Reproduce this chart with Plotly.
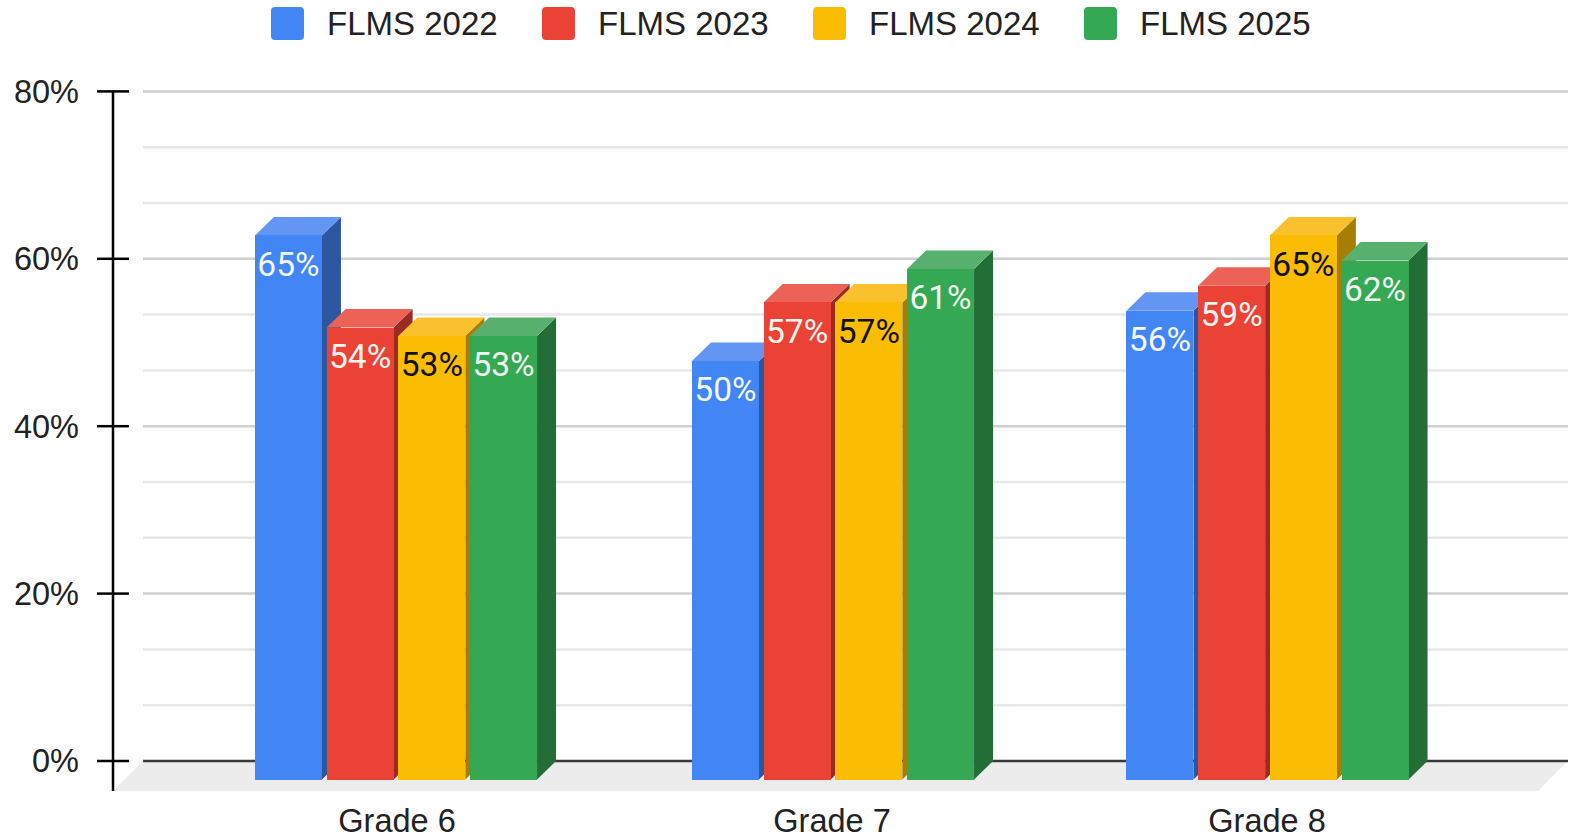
import plotly.graph_objects as go

categories = ["Grade 6", "Grade 7", "Grade 8"]
series_names = ["FLMS 2022", "FLMS 2023", "FLMS 2024", "FLMS 2025"]
flms_2022 = [65, 50, 56]
flms_2023 = [54, 57, 59]
flms_2024 = [53, 57, 65]
flms_2025 = [53, 61, 62]
y_major = [0, 20, 40, 60, 80]
y_labels = ["0%", "20%", "40%", "60%", "80%"]

series = [flms_2022, flms_2023, flms_2024, flms_2025]
front = ["#4285F4", "#EA4335", "#FBBC04", "#34A853"]
top = ["#6296F2", "#EC6257", "#F9C12E", "#58B06F"]
side = ["#2C56A0", "#982B23", "#A87D03", "#226E36"]
label_col = ["#F4F8FF", "#FFF4F2", "#111111", "#F2FAF4"]

W, H = 1570, 839
PX_X, PX_Y = 435.0, 8.37      # pixels per category, pixels per percent
L, T, B = 92, 80, 795         # plot box (a little larger than the drawn chart)
AXIS_X, FLOOR_Y = 113, 791
X0, Y0 = 396, 761             # pixel of first category centre and of 0 %
GROUP_PX = [396, 833, 1267.5] # pixel centres of the bar groups
TICK_PX = [397, 832, 1267]    # pixel centres of the category labels
px = lambda n: n / PX_X       # pixel lengths expressed in axis units
py = lambda n: n / PX_Y
to_x = lambda p: (p - X0) / PX_X
BAR_W, STEP, DX, DY = px(67), px(71.7), px(19), py(18.5)
x_lo, x_hi = to_x(L), to_x(W)
y_lo, y_hi = (Y0 - B) / PX_Y, (Y0 - T) / PX_Y
x_axis = to_x(AXIS_X)
y_floor = (Y0 - FLOOR_Y) / PX_Y
y_top = 80
grid_l, grid_r = x_axis + px(30), x_hi - px(2)

fig = go.Figure()

# floor
fig.add_trace(go.Scatter(
    x=[x_axis, grid_l, grid_r, grid_r - px(30), x_axis], y=[y_floor, 0, 0, y_floor, y_floor],
    mode="lines", fill="toself", fillcolor="#ECECEC", line=dict(width=0),
    hoverinfo="skip", showlegend=False, zorder=-5))

# back-wall grid lines
def hline_trace(values, color, width, a=grid_l, b=grid_r, z=-4):
    xs, ys = [], []
    for v in values:
        xs += [a, b, None]
        ys += [v, v, None]
    return go.Scatter(x=xs, y=ys, mode="lines", line=dict(color=color, width=width),
                      hoverinfo="skip", showlegend=False, zorder=z)

minor = [v + k * 20 / 3 for v in y_major[:-1] for k in (1, 2)]
fig.add_trace(hline_trace(minor, "#E7E7E7", 2.5))
fig.add_trace(hline_trace(y_major[1:], "#CFCFCF", 2.5))
fig.add_trace(hline_trace([0], "#3A3A3A", 2.5))
# axis ticks, crossing the axis line
fig.add_trace(hline_trace(y_major, "#000000", 2.5, x_axis - px(16), x_axis + px(16), -3))
# axis line
fig.add_trace(go.Scatter(x=[x_axis, x_axis], y=[y_floor, y_top], mode="lines",
                         line=dict(color="#000000", width=2.5), hoverinfo="skip",
                         showlegend=False, zorder=-3))

z = 0
lx, ly, lt, lc = [], [], [], []
for s, vals in enumerate(series):
    xs = [to_x(g) + (s - 1.5) * STEP for g in GROUP_PX]
    for x, v in zip(xs, vals):
        r = x + BAR_W / 2
        l = x - BAR_W / 2
        fig.add_trace(go.Scatter(
            x=[r, r + DX, r + DX, r, r], y=[-DY, 0, v, v - DY, -DY],
            mode="lines", fill="toself", fillcolor=side[s], line=dict(width=0),
            hoverinfo="skip", showlegend=False, zorder=z))
        fig.add_trace(go.Scatter(
            x=[l, l + DX, r + DX, r, l], y=[v - DY, v, v, v - DY, v - DY],
            mode="lines", fill="toself", fillcolor=top[s], line=dict(width=0),
            hoverinfo="skip", showlegend=False, zorder=z))
        lx.append(x)
        ly.append(v - DY - py(32))
        lt.append(f"{v}%")
        lc.append(label_col[s])
    fig.add_trace(go.Bar(
        x=xs, y=vals, base=-DY, width=BAR_W, name=series_names[s],
        marker=dict(color=front[s], line=dict(width=0)), showlegend=False, zorder=z + 1))
    z += 2

fig.add_trace(go.Scatter(
    x=lx, y=ly, text=lt, mode="text", textposition="middle center",
    textfont=dict(family="Roboto", size=33.5, color=lc),
    hoverinfo="skip", showlegend=False, cliponaxis=False, zorder=z))

# legend (paper coordinates are relative to the plot box)
to_px = lambda p: (p - L) / (W - L)
to_py = lambda p: (B - p) / (B - T)
shapes, annotations = [], []
for s, name in enumerate(series_names):
    x0 = 271 + s * 271
    a, b, c, d = to_px(x0), to_px(x0 + 33), to_py(7), to_py(40)
    rx, ry = 4 / (W - L), 4 / (B - T)
    path = (f"M{a+rx},{d} L{b-rx},{d} Q{b},{d} {b},{d+ry} L{b},{c-ry} Q{b},{c} {b-rx},{c} "
            f"L{a+rx},{c} Q{a},{c} {a},{c-ry} L{a},{d+ry} Q{a},{d} {a+rx},{d} Z")
    shapes.append(dict(type="path", path=path, xref="paper", yref="paper",
                       fillcolor=front[s], line=dict(width=0), layer="above"))
    annotations.append(dict(
        text=name, xref="paper", yref="paper", x=to_px(x0 + 54), y=to_py(23),
        xanchor="left", yanchor="middle", showarrow=False,
        font=dict(family="Liberation Sans", size=33, color="#222222")))

fig.update_layout(
    width=W, height=H, autosize=False,
    margin=dict(l=L, r=0, t=T, b=H - B, pad=0),
    paper_bgcolor="white", plot_bgcolor="white",
    barmode="overlay", bargap=0, showlegend=False,
    font=dict(family="Liberation Sans", size=32, color="#222222"),
    shapes=shapes, annotations=annotations,
    xaxis=dict(
        range=[x_lo, x_hi], tickmode="array", tickvals=[to_x(p) for p in TICK_PX],
        ticktext=categories,
        showgrid=False, zeroline=False, showline=False, ticks="", ticklabelstandoff=3,
        automargin=False,
        tickfont=dict(family="Liberation Sans", size=32.5, color="#222222"), fixedrange=True),
    yaxis=dict(
        range=[y_lo, y_hi], tickmode="array", tickvals=y_major, ticktext=y_labels,
        showgrid=False, zeroline=False, showline=False,
        ticks="", ticklabelstandoff=12, automargin=False,
        tickfont=dict(family="Liberation Sans", size=32.5, color="#222222"), fixedrange=True),
)
fig.write_html("out.html", config=dict(displayModeBar=False),
               post_script="document.body.style.margin='0';")
